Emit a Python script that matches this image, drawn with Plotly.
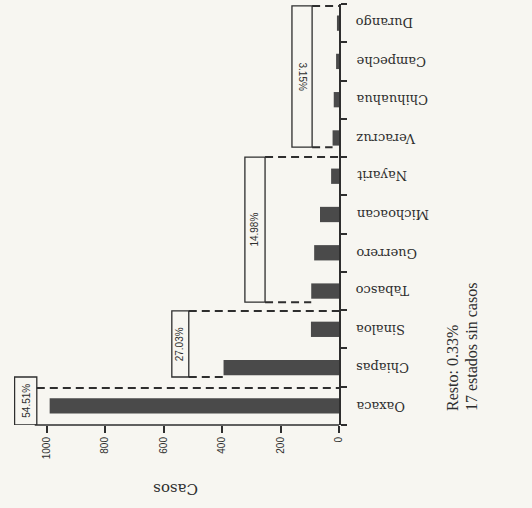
import plotly.graph_objects as go

# ---- data ----
estados = ["Oaxaca", "Chiapas", "Sinaloa", "Tabasco", "Guerrero", "Michoacan",
           "Nayarit", "Veracruz", "Chihuahua", "Campeche", "Durango"]
casos = [990, 395, 96, 95, 85, 65, 27, 22, 18, 10, 7]
x_ticks = [0, 200, 400, 600, 800, 1000]
grupo_pct = ["54.51%", "27.03%", "14.98%", "3.15%"]
grupo_angulo = [-90, -90, -90, 90]
nota_1 = "Resto: 0.33%"
nota_2 = "17 estados sin casos"

# ---- layout constants (box brackets, in axis units) ----
# (x_far, x_near, y_low, y_high, dashed_top_y, dashed_bottom_y, bottom_end_value)
boxes = [
    (1110, 1034, -0.5, 0.754, 0.467, None, None),
    (572, 514, 0.754, 2.48, 2.48, 0.754, casos[1]),
    (322, 253, 2.71, 6.50, 6.50, 2.71, casos[3]),
    (161, 92, 6.76, 10.45, 10.45, 6.76, casos[7]),
]

INK = "#2e2e2e"
BG = "#f7f6f1"
L, R, T, B, W, H = 14, 193, 4, 83, 532, 508
PW, PH = W - L - R, H - T - B

fig = go.Figure()
fig.add_trace(go.Bar(
    y=estados, x=casos, orientation="h",
    marker=dict(color="#4a4a4a", line=dict(width=0)),
    width=0.4, hoverinfo="skip",
))

shapes = []
annotations = []
for (xf, xn, y0, y1, dtop, dbot, bend), pct, ang in zip(boxes, grupo_pct, grupo_angulo):
    shapes.append(dict(type="rect", xref="x", yref="y", x0=xf, x1=xn, y0=y0, y1=y1,
                       line=dict(color=INK, width=1.3), fillcolor="rgba(0,0,0,0)"))
    shapes.append(dict(type="line", xref="x", yref="y", x0=xn, x1=0, y0=dtop, y1=dtop,
                       line=dict(color=INK, width=2, dash="8px,5px")))
    if dbot is not None:
        shapes.append(dict(type="line", xref="x", yref="y", x0=xn, x1=bend, y0=dbot, y1=dbot,
                           line=dict(color=INK, width=2, dash="8px,5px")))
    annotations.append(dict(x=(xf + xn) / 2, y=(y0 + y1) / 2, xref="x", yref="y",
                            text=pct, showarrow=False, textangle=ang,
                            font=dict(family="Liberation Sans", size=10, color=INK)))

# x axis line (ends short of left edge)
shapes.append(dict(type="line", xref="x", yref="paper", x0=0, x1=1041, y0=0, y1=0,
                   line=dict(color=INK, width=1.6)))

# category labels, upside down, right of the axis
for e in estados:
    annotations.append(dict(xref="paper", yref="y", x=1 + 15 / PW, y=e, xanchor="left",
                            yanchor="middle", text=e, showarrow=False, textangle=180,
                            font=dict(family="DejaVu Serif", size=13, color=INK)))

annotations.append(dict(xref="paper", yref="paper", x=(176 - L) / PW, y=(H - B - 489) / PH,
                        xanchor="center", yanchor="middle",
                        text="Casos", showarrow=False, textangle=180,
                        font=dict(family="DejaVu Serif", size=15, color=INK)))
annotations.append(dict(xref="paper", yref="paper", x=(452 - L) / PW, y=(H - B - 413) / PH,
                        xanchor="center", yanchor="bottom", text=nota_1, showarrow=False,
                        textangle=-90, font=dict(family="Liberation Serif", size=16, color=INK)))
annotations.append(dict(xref="paper", yref="paper", x=(471 - L) / PW, y=(H - B - 413) / PH,
                        xanchor="center", yanchor="bottom", text=nota_2, showarrow=False,
                        textangle=-90, font=dict(family="Liberation Serif", size=16, color=INK)))

fig.update_layout(
    width=W, height=H,
    margin=dict(l=L, r=R, t=T, b=B),
    paper_bgcolor=BG, plot_bgcolor=BG,
    showlegend=False, hovermode=False,
    shapes=shapes, annotations=annotations,
    xaxis=dict(range=[1112, 0], tickvals=x_ticks, ticktext=[str(v) for v in x_ticks],
               tickangle=-90, ticks="outside", ticklen=7, tickwidth=1.5, tickcolor=INK,
               showline=False, showgrid=False, zeroline=False,
               tickfont=dict(family="Liberation Sans", size=10, color=INK)),
    yaxis=dict(side="right", range=[-0.5, 10.5], type="category",
               categoryorder="array", categoryarray=estados,
               showticklabels=False, ticks="outside", ticklen=6, tickwidth=1.5, tickcolor=INK,
               tickson="boundaries", showline=True, linecolor=INK, linewidth=2,
               showgrid=False, zeroline=False),
)

fig.write_html("out.html", config={"displayModeBar": False},
               post_script="document.body.style.margin='0';document.body.style.overflow='hidden';")
